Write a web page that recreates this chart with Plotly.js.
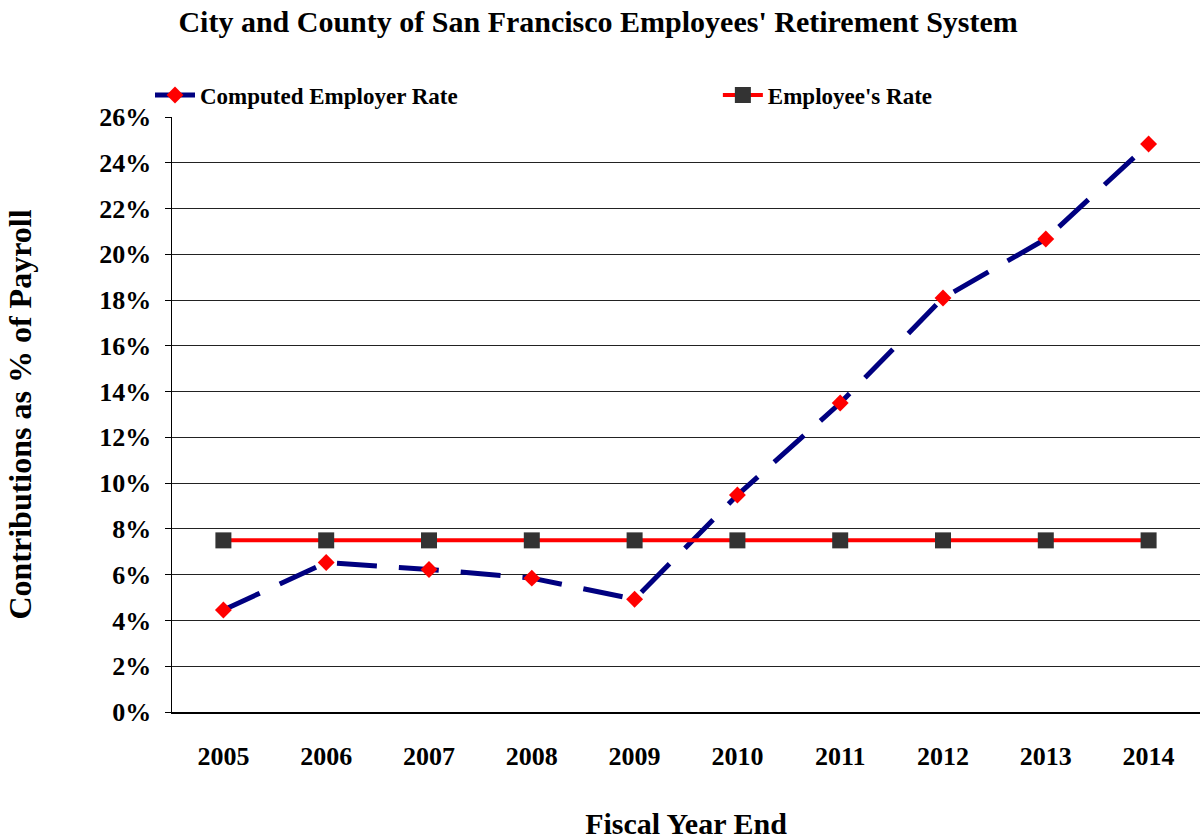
<!DOCTYPE html>
<html>
<head>
<meta charset="utf-8">
<script src="https://cdn.plot.ly/plotly-3.0.1.min.js"></script>
<style>html,body{margin:0;padding:0;background:#fff;}#chart{width:1201px;height:840px;}</style>
</head>
<body>
<div id="chart"></div>
<script>
const years = ['2005','2006','2007','2008','2009','2010','2011','2012','2013','2014'];
const employerRate = [4.46, 6.53, 6.23, 5.85, 4.93, 9.48, 13.5, 18.09, 20.67, 24.82];
const employeeRate = [7.5, 7.5, 7.5, 7.5, 7.5, 7.5, 7.5, 7.5, 7.5, 7.5];
const yTickVals = [0,2,4,6,8,10,12,14,16,18,20,22,24,26];
const yTickText = yTickVals.map(v => v + '%');

const font = 'Liberation Serif, Times New Roman, serif';

const traces = [
  {
    x: years, y: employerRate, name: 'Computed Employer Rate', type: 'scatter', mode: 'lines+markers',
    line: {color: '#000080', width: 5, dash: '40px,22px'},
    marker: {symbol: 'diamond', color: '#ff0000', size: 13},
    legend: 'legend'
  },
  {
    x: years, y: employeeRate, name: "Employee's Rate", type: 'scatter', mode: 'lines+markers',
    line: {color: '#ff0000', width: 4},
    marker: {symbol: 'square', color: '#333333', size: 16},
    legend: 'legend2'
  }
];

const legendFont = {family: font, size: 23, color: '#000', weight: 'bold'};

const layout = {
  width: 1201, height: 840,
  paper_bgcolor: '#ffffff', plot_bgcolor: '#ffffff',
  margin: {l: 172, r: 1, t: 117, b: 128},
  font: {family: font, color: '#000000', size: 22},
  title: {text: "<b>City and County of San Francisco Employees' Retirement System</b>",
    font: {family: font, size: 30, color: '#000'}, x: 0.498, xanchor: 'center', y: 0.975, yanchor: 'middle', yref: 'container'},
  showlegend: true,
  legend: {orientation: 'h', x: -0.0214, xanchor: 'left', y: 1.037, yanchor: 'middle',
    font: legendFont, itemwidth: 40, bgcolor: 'rgba(0,0,0,0)'},
  legend2: {orientation: 'h', x: 0.531, xanchor: 'left', y: 1.037, yanchor: 'middle',
    font: legendFont, itemwidth: 40, bgcolor: 'rgba(0,0,0,0)'},
  xaxis: {
    type: 'category', range: [-0.5, 9.5], showgrid: false, zeroline: false,
    showline: true, linecolor: '#000', linewidth: 1.5, ticks: '',
    tickfont: {family: font, size: 26, weight: 'bold'}, ticklabelstandoff: 20,
    title: {text: '<b>Fiscal Year End</b>', font: {family: font, size: 30}, standoff: 44}
  },
  yaxis: {
    range: [0, 26], tickvals: yTickVals, ticktext: yTickText,
    showgrid: true, gridcolor: '#222', gridwidth: 1, zeroline: false,
    showline: true, linecolor: '#000', linewidth: 1.5,
    ticks: 'outside', ticklen: 6, tickcolor: '#000',
    tickfont: {family: font, size: 26, weight: 'bold'}, ticklabelstandoff: 8,
    title: {text: '<b>Contributions as % of Payroll</b>', font: {family: font, size: 32}, standoff: 58}
  }
};

Plotly.newPlot('chart', traces, layout, {displayModeBar: false, staticPlot: true});
</script>
</body>
</html>
